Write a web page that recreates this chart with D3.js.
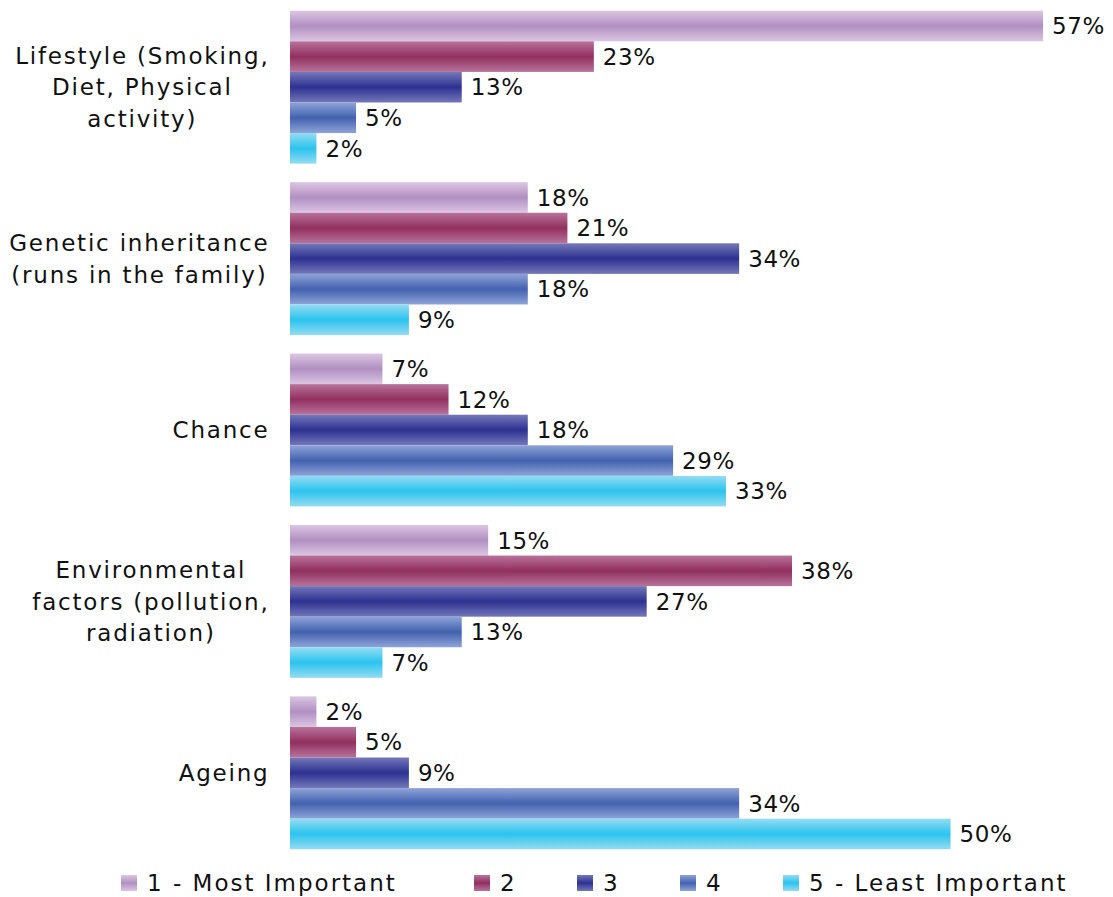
<!DOCTYPE html>
<html>
<head>
<meta charset="utf-8">
<script src="https://cdn.jsdelivr.net/npm/d3@7"></script>
<style>
  html, body { margin: 0; padding: 0; background: #fff; }
  svg text { font-family: "DejaVu Sans", Verdana, sans-serif; fill: #111; }
</style>
</head>
<body>
<svg id="chart" width="1113" height="897"></svg>
<script>
// Perceived causes of cancer, ranked by importance (percent of respondents)
const categories = [
  ["Lifestyle (Smoking,", "Diet, Physical", "activity)"],
  ["Genetic inheritance", "(runs in the family)"],
  ["Chance"],
  ["Environmental", "factors (pollution,", "radiation)"],
  ["Ageing"]
];
const seriesNames = ["1 - Most Important", "2", "3", "4", "5 - Least Important"];
const rank1 = [57, 18, 7, 15, 2];
const rank2 = [23, 21, 12, 38, 5];
const rank3 = [13, 34, 18, 27, 9];
const rank4 = [5, 18, 29, 13, 34];
const rank5 = [2, 9, 33, 7, 50];
const seriesValues = [rank1, rank2, rank3, rank4, rank5];

// gradient colours per series: [edge, centre]
const seriesColors = [
  ["#dcc6e2", "#b08fc1"],
  ["#b8739a", "#91305f"],
  ["#7478b9", "#2d3190"],
  ["#8ea3d8", "#4362ae"],
  ["#94dcf2", "#2bc3ee"]
];

const svg = d3.select("#chart");
const fontSize = 23;

const plotLeft = 290;
const x = d3.scaleLinear().domain([0, 57]).range([plotLeft, 1043]);

const catIdx = d3.range(categories.length);
const y0 = d3.scaleBand().domain(catIdx).range([1.5, 858.5]).paddingInner(0.108).paddingOuter(0.054);
const y1 = d3.scaleBand().domain(d3.range(seriesNames.length)).range([0, y0.bandwidth()]).padding(0);

// stripe-like vertical gradients, light at edges and dark in the middle
const defs = svg.append("defs");
seriesColors.forEach((c, i) => {
  const g = defs.append("linearGradient")
    .attr("id", "grad" + i)
    .attr("x1", 0).attr("y1", 0).attr("x2", 0).attr("y2", 1);
  g.append("stop").attr("offset", "0%").attr("stop-color", c[0]);
  g.append("stop").attr("offset", "50%").attr("stop-color", c[1]);
  g.append("stop").attr("offset", "100%").attr("stop-color", c[0]);
});

const groups = svg.append("g").selectAll("g")
  .data(catIdx)
  .join("g")
  .attr("transform", d => `translate(0,${y0(d)})`);

groups.selectAll("rect")
  .data(ci => seriesValues.map((vals, si) => ({ si, v: vals[ci] })))
  .join("rect")
  .attr("x", x(0))
  .attr("y", d => y1(d.si))
  .attr("width", d => x(d.v) - x(0))
  .attr("height", y1.bandwidth())
  .attr("fill", d => `url(#grad${d.si})`);

groups.selectAll("text.val")
  .data(ci => seriesValues.map((vals, si) => ({ si, v: vals[ci] })))
  .join("text")
  .attr("class", "val")
  .attr("x", d => x(d.v) + 9)
  .attr("y", d => y1(d.si) + y1.bandwidth() / 2)
  .attr("dy", "0.36em")
  .attr("font-size", fontSize)
  .attr("letter-spacing", 0.6)
  .text(d => d.v + "%");

// category labels: each block centred on itself, right edge at the axis
const labelRight = 269.5;
const lineH = 31.5;
const catG = svg.append("g");
categories.forEach((lines, ci) => {
  const t = catG.append("text")
    .attr("font-size", fontSize)
    .attr("letter-spacing", 1.8)
    .attr("text-anchor", "middle");
  const cy = y0(ci) + y0.bandwidth() / 2;
  lines.forEach((ln, li) => {
    t.append("tspan")
      .attr("x", 0)
      .attr("y", cy + (li - (lines.length - 1) / 2) * lineH)
      .attr("dy", "0.36em")
      .text(ln);
  });
  let maxW = 0;
  t.selectAll("tspan").each(function () {
    maxW = Math.max(maxW, this.getComputedTextLength());
  });
  t.selectAll("tspan").attr("x", labelRight - maxW / 2);
});

// legend
const legendX = [121, 474, 577, 680, 783];
const legendY = 883;
const leg = svg.append("g").selectAll("g")
  .data(seriesNames)
  .join("g")
  .attr("transform", (d, i) => `translate(${legendX[i]},${legendY})`);
leg.append("rect")
  .attr("x", 0).attr("y", -8)
  .attr("width", 16).attr("height", 16)
  .attr("fill", (d, i) => `url(#grad${i})`);
leg.append("text")
  .attr("x", 26)
  .attr("y", 0)
  .attr("dy", "0.36em")
  .attr("font-size", fontSize)
  .attr("letter-spacing", 2)
  .text(d => d);
</script>
</body>
</html>
